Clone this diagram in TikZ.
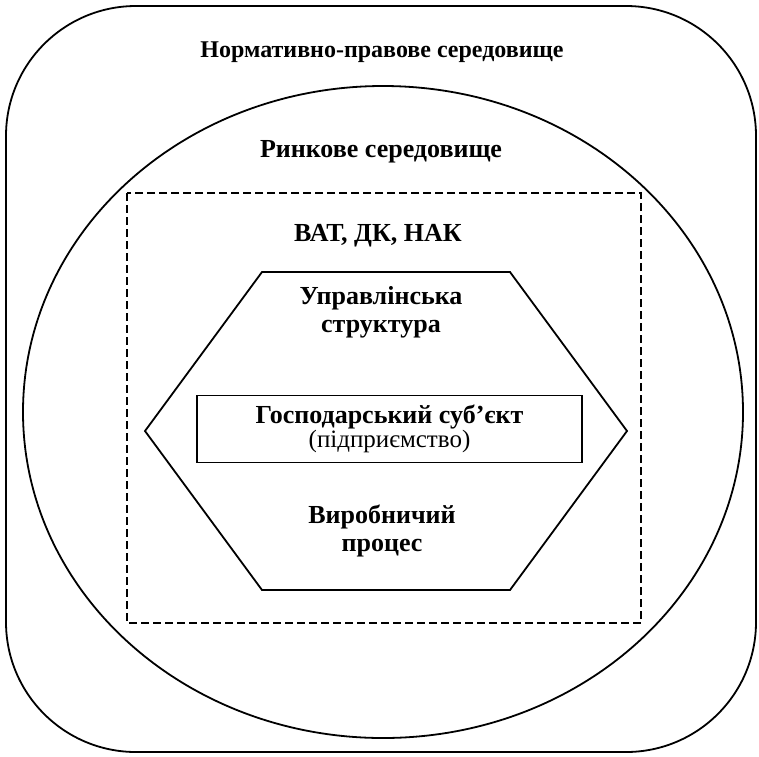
\documentclass[tikz,border=0pt]{standalone}
\usepackage{fontspec}
\setmainfont{Liberation Serif}
\usetikzlibrary{positioning}

\begin{document}
\begin{tikzpicture}[x=0.5pt, y=-0.5pt, line width=0.9pt,
    lbl/.style = {font=\fontsize{13}{14}\selectfont\bfseries, align=center, inner sep=0pt},
    box/.style = {draw, minimum width=192.5pt, minimum height=33.5pt, align=center, inner sep=1pt}]
    \useasboundingbox (0,0) rectangle (759,756);

    % environments
    \draw[rounded corners=65pt] (6,6) rectangle (756,752);
    \draw (383,412) ellipse [x radius=180pt, y radius=163pt];
    \draw[dash pattern=on 4pt off 2pt] (127,193) rectangle (641,623);
    \draw (145,431) -- (262,272) -- (510,272) -- (627,431) -- (510,590) -- (262,590) -- cycle;

    \node[lbl, font=\fontsize{12}{14}\selectfont\bfseries] (norm) at (382,52) {Нормативно-правове середовище};
    \node[lbl] (market) at (381,152) {Ринкове середовище};
    \node[lbl] (owners) at (378,236) {ВАТ, ДК, НАК};
    \node[lbl] (mgmt) at (381,312) {Управлінська\\структура};

    \node[box] (subj) at (389.5,429) {{\fontsize{13}{12}\selectfont\bfseries Господарський суб’єкт}\\{\fontsize{12.5}{12}\selectfont (підприємство)}};

    \node[lbl] (prod) at (382,531) {Виробничий\\процес};
\end{tikzpicture}
\end{document}
